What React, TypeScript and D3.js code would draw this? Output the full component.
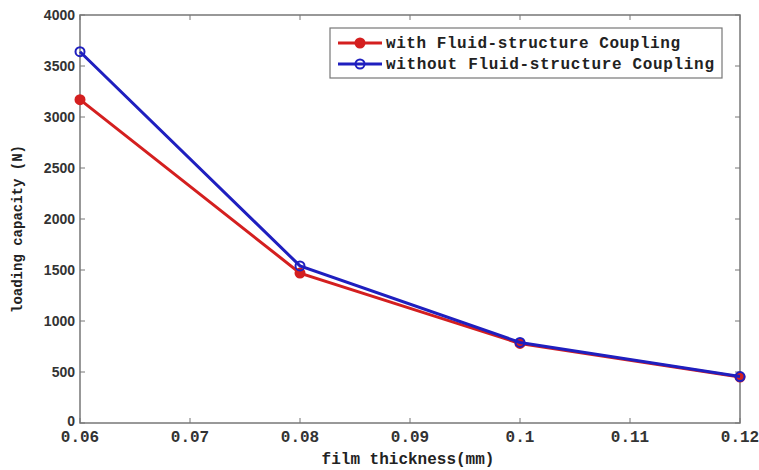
import * as d3 from "d3";
import { useEffect, useRef } from "react";

const thickness = [0.06, 0.08, 0.1, 0.12];
const withCoupling = [3170, 1470, 780, 450];
const withoutCoupling = [3640, 1540, 790, 455];
const xTicks = [0.06, 0.07, 0.08, 0.09, 0.1, 0.11, 0.12];
const yTicks = [0, 500, 1000, 1500, 2000, 2500, 3000, 3500, 4000];
const seriesNames = ["with Fluid-structure Coupling", "without Fluid-structure Coupling"];
const seriesColors = ["#d41f1f", "#1f1fbf"];

export default function App() {
    const svgRef = useRef<SVGSVGElement>(null);

    useEffect(() => {
        const svg = d3.select(svgRef.current);
        svg.selectAll("*").remove();

        const left = 80, right = 740, top = 15, bottom = 423;
        const x = d3.scaleLinear().domain([0.06, 0.12]).range([left, right]);
        const y = d3.scaleLinear().domain([0, 4000]).range([bottom, top]);

        svg.append("rect").attr("width", 759).attr("height", 470).attr("fill", "#fff");

        // frame
        svg.append("rect")
            .attr("x", left).attr("y", top)
            .attr("width", right - left).attr("height", bottom - top)
            .attr("fill", "none").attr("stroke", "#777").attr("stroke-width", 1.5);

        const tickLen = 5;
        const g = svg.append("g");
        xTicks.forEach((t) => {
            g.append("line").attr("x1", x(t)).attr("x2", x(t)).attr("y1", bottom).attr("y2", bottom - tickLen).attr("stroke", "#777");
            g.append("line").attr("x1", x(t)).attr("x2", x(t)).attr("y1", top).attr("y2", top + tickLen).attr("stroke", "#777");
            g.append("text")
                .attr("x", x(t)).attr("y", bottom + 19)
                .attr("text-anchor", "middle")
                .style("font-family", "Liberation Mono, monospace")
                .style("font-size", "16px")
                .style("font-weight", "bold")
                .attr("fill", "#333")
                .text(String(t));
        });
        yTicks.forEach((t) => {
            g.append("line").attr("x1", left).attr("x2", left + tickLen).attr("y1", y(t)).attr("y2", y(t)).attr("stroke", "#777");
            g.append("line").attr("x1", right).attr("x2", right - tickLen).attr("y1", y(t)).attr("y2", y(t)).attr("stroke", "#777");
            g.append("text")
                .attr("x", left - 5).attr("y", y(t) + (t === 0 ? 3 : 5))
                .attr("text-anchor", "end")
                .style("font-family", "Liberation Sans, Arial, sans-serif")
                .style("font-size", "14px")
                .style("font-weight", "bold")
                .attr("fill", "#333")
                .text(String(t));
        });

        // axis titles
        svg.append("text")
            .attr("x", (left + right) / 2 - 2).attr("y", 464)
            .attr("text-anchor", "middle")
            .style("font-family", "Liberation Mono, monospace")
            .style("font-weight", "bold")
            .style("font-size", "16px")
            .attr("fill", "#222")
            .text("film thickness(mm)");
        svg.append("text")
            .attr("transform", `translate(22, ${(top + bottom) / 2 + 10}) rotate(-90)`)
            .attr("text-anchor", "middle")
            .style("font-family", "Liberation Mono, monospace")
            .style("font-weight", "bold")
            .style("font-size", "14px")
            .attr("fill", "#222")
            .text("loading capacity (N)");

        const line = d3.line<number>()
            .x((d, i) => x(thickness[i]))
            .y((d) => y(d));

        [withCoupling, withoutCoupling].forEach((vals, k) => {
            svg.append("path")
                .attr("d", line(vals))
                .attr("fill", "none")
                .attr("stroke", seriesColors[k])
                .attr("stroke-width", 3);
            svg.selectAll(null)
                .data(vals)
                .join("circle")
                .attr("cx", (d, i) => x(thickness[i]))
                .attr("cy", (d) => y(d))
                .attr("r", 4.5)
                .attr("fill", k === 0 ? seriesColors[k] : "none")
                .attr("stroke", seriesColors[k])
                .attr("stroke-width", 2);
        });

        // legend
        const lg = svg.append("g").attr("transform", "translate(330, 28)");
        lg.append("rect").attr("width", 392).attr("height", 50).attr("fill", "#fff").attr("stroke", "#777").attr("stroke-width", 1.2);
        seriesNames.forEach((name, k) => {
            const yy = 15 + k * 21;
            lg.append("line").attr("x1", 8).attr("x2", 52).attr("y1", yy).attr("y2", yy)
                .attr("stroke", seriesColors[k]).attr("stroke-width", 3);
            lg.append("circle").attr("cx", 30).attr("cy", yy).attr("r", 4.5)
                .attr("fill", k === 0 ? seriesColors[k] : "none")
                .attr("stroke", seriesColors[k]).attr("stroke-width", 2);
            lg.append("text")
                .attr("x", 56).attr("y", yy + 5)
                .attr("textLength", k === 0 ? 294 : 328)
                .style("font-family", "Liberation Mono, monospace")
                .style("font-weight", "bold")
                .style("font-size", "16px")
                .attr("fill", "#222")
                .text(name);
        });
    }, []);

    return (
        <div style={{ position: "absolute", left: 0, top: 0 }}>
            <svg ref={svgRef} width={759} height={470} />
        </div>
    );
}
